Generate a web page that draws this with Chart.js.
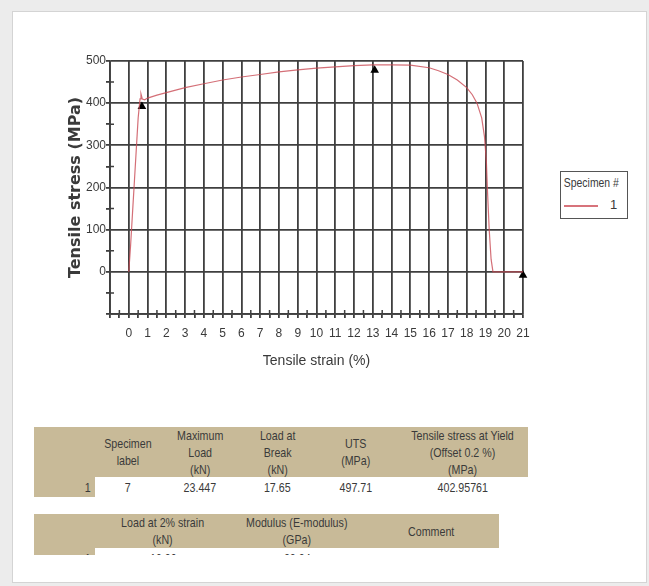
<!DOCTYPE html>
<html>
<head>
<meta charset="utf-8">
<script src="https://cdn.jsdelivr.net/npm/chart.js@4.4.1/dist/chart.umd.min.js"></script>
<style>
  body { margin: 0; background: #ececec; width: 649px; height: 586px; position: relative; overflow: hidden;
         font-family: 'Liberation Sans', sans-serif; color: #3a3a3a; }
  #frame { position: absolute; left: 12px; top: 11px; width: 633px; height: 570px; background: #fff; border: 1px solid #d4d4d4; }
  #wrap { position: absolute; left: 0; top: 0; width: 649px; height: 400px; }
  #legende { position: absolute; left: 560px; top: 171px; width: 66px; height: 46px; border: 1.5px solid #555;
             background: #fff; font-size: 13px; }
  #legende .tit { position: absolute; left: -4px; top: 3px; white-space: nowrap; transform: scaleX(0.8); }
  #legende .linea { position: absolute; left: 3px; top: 33px; width: 34px; height: 2px; background: rgba(205, 80, 90, 0.8); }
  #legende .num { position: absolute; left: 49px; top: 25px; }
  .tabla { position: absolute; font-size: 13px; }
  .celda { position: absolute; display: flex; align-items: center; justify-content: center; text-align: center;
           overflow: hidden; line-height: 17px; }
  .celda span { display: inline-block; transform: scaleX(0.82); white-space: nowrap; }
  .cab { background: #c8ba98; }
</style>
</head>
<body>
<div id="frame"></div>
<div id="wrap"><canvas id="Grafico" width="649" height="400"></canvas></div>
<div id="legende">
  <div class="tit">Specimen #</div>
  <div class="linea"></div>
  <div class="num">1</div>
</div>
<div id="tabla1" class="tabla"></div>
<div id="tabla2" class="tabla"></div>
<script>
// curva tensión-deformación
const deformacion = [0, 0.1, 0.2, 0.3, 0.4, 0.5, 0.6, 0.65, 0.72, 0.85, 1, 1.5, 2, 3, 4, 5, 6, 7, 8, 9, 10,
  11, 12, 13, 14, 15, 16, 16.5, 17, 17.5, 18, 18.3, 18.55, 18.8, 18.95, 19.05, 19.1, 19.2, 19.3, 19.4, 20, 21];
const tension = [0, 65, 140, 215, 290, 365, 410, 422, 410, 408, 412, 419, 425, 437, 446, 455, 462, 468, 474, 479, 483,
  486, 489, 491, 491, 490, 484, 477, 468, 455, 437, 420, 400, 365, 320, 260, 200, 100, 30, 0, 0, 0];

// marcadores (fluencia, UTS, rotura)
const marcaX = [0.7, 13.1, 21];
const marcaY = [392, 478, -8];

const ejeX = { min: -1, max: 21, paso: 0.5 };
const ejeY = { min: -100, max: 500, paso: 50 };

const colorGrilla = '#3f3f3f';
const fuenteTicks = { family: "'Liberation Sans', sans-serif", size: 12 };

// ticks menores hacia adentro
const ticksInternos = {
  id: 'ticksInternos',
  afterDraw(chart) {
    const { ctx, chartArea, scales } = chart;
    ctx.save();
    ctx.strokeStyle = colorGrilla;
    ctx.lineWidth = 1.5;
    ctx.beginPath();
    for (let v = ejeX.min; v <= ejeX.max; v += ejeX.paso) {
      if (Number.isInteger(v)) continue;
      const x = scales.x.getPixelForValue(v);
      ctx.moveTo(x, chartArea.bottom);
      ctx.lineTo(x, chartArea.bottom - 4);
    }
    for (let v = ejeY.min; v <= ejeY.max; v += ejeY.paso) {
      if (v % 100 === 0) continue;
      const y = scales.y.getPixelForValue(v);
      ctx.moveTo(chartArea.left, y);
      ctx.lineTo(chartArea.left + 4, y);
    }
    ctx.stroke();
    ctx.restore();
  }
};

const config = {
  type: 'scatter',
  data: {
    datasets: [{
      label: '1',
      data: deformacion.map((x, i) => ({ x: x, y: tension[i] })),
      showLine: true,
      borderColor: 'rgba(201, 75, 85, 0.8)',
      borderWidth: 1.2,
      pointRadius: 0,
      tension: 0
    }, {
      label: 'marcas',
      data: marcaX.map((x, i) => ({ x: x, y: marcaY[i] })),
      pointStyle: 'triangle',
      pointRadius: 5,
      backgroundColor: '#000',
      borderColor: '#000',
      borderWidth: 0,
      clip: false
    }]
  },
  options: {
    responsive: false,
    animation: false,
    layout: { padding: { left: 0, top: 61, right: 126, bottom: 0 } },
    plugins: { legend: { display: false }, tooltip: { enabled: false } },
    scales: {
      x: {
        type: 'linear', min: ejeX.min, max: ejeX.max,
        afterFit: s => { s.height = 86; },
        border: { color: colorGrilla, width: 1.8 },
        grid: {
          color: c => Number.isInteger(c.tick.value) ? colorGrilla : 'rgba(0,0,0,0)',
          tickColor: colorGrilla, lineWidth: 1.8, tickLength: 4
        },
        ticks: {
          stepSize: ejeX.paso, autoSkip: false, maxRotation: 0, padding: 8,
          color: '#3a3a3a', font: fuenteTicks,
          callback: v => (v >= 0 && Number.isInteger(v)) ? v : ''
        },
        title: {
          display: true, text: 'Tensile strain (%)', color: '#3a3a3a',
          font: { family: "'Liberation Sans', sans-serif", size: 14 },
          padding: { top: 0, bottom: 30 }
        }
      },
      y: {
        type: 'linear', min: ejeY.min, max: ejeY.max,
        afterFit: s => { s.width = 110; },
        border: { color: colorGrilla, width: 1.8 },
        grid: {
          color: c => (c.tick.value % 100 === 0) ? colorGrilla : 'rgba(0,0,0,0)',
          tickColor: colorGrilla, lineWidth: 1.8, tickLength: 4
        },
        ticks: {
          stepSize: ejeY.paso, autoSkip: false, padding: 0,
          color: '#3a3a3a', font: fuenteTicks,
          callback: v => (v >= 0 && v % 100 === 0) ? v : ''
        },
        title: {
          display: true, text: 'Tensile stress (MPa)', color: '#3a3a3a',
          font: { family: "'DejaVu Sans', sans-serif", size: 16, weight: 'bold' },
          padding: { top: 66, bottom: 0 }
        }
      }
    }
  },
  plugins: [ticksInternos]
};

const myChart = new Chart(document.getElementById('Grafico'), config);

// tablas de resultados
const cab1 = ['', 'Specimen<br>label', 'Maximum<br>Load<br>(kN)', 'Load at<br>Break<br>(kN)', 'UTS<br>(MPa)',
  'Tensile stress at Yield<br>(Offset 0.2 %)<br>(MPa)'];
const fila1 = ['1', '7', '23.447', '17.65', '497.71', '402.95761'];
const anchos1 = [61, 65, 80, 75, 82, 131];
const cab2 = ['', 'Load at 2% strain<br>(kN)', 'Modulus (E-modulus)<br>(GPa)', 'Comment'];
const fila2 = ['1', '16.30', '22.34', ''];
const anchos2 = [61, 136, 132, 136];

function armarTabla(id, left, top, cab, fila, anchos, altoCab, altoFila, desfase) {
  let contenedor = document.getElementById(id);
  contenedor.style.left = left + 'px';
  contenedor.style.top = top + 'px';
  let x = 0;
  anchos.forEach((w, i) => {
    let c = document.createElement('div');
    c.className = 'celda cab';
    c.style.cssText += `left:${x}px;top:0;width:${w}px;height:${altoCab}px;`;
    c.innerHTML = cab[i] ? `<span>${cab[i]}</span>` : '';
    contenedor.appendChild(c);
    let d = document.createElement('div');
    d.className = 'celda' + (i === 0 ? ' cab' : '');
    d.style.cssText += `left:${x}px;top:${altoCab}px;width:${w}px;height:${altoFila}px;align-items:flex-start;`;
    if (i === 0) d.style.justifyContent = 'flex-end';
    d.innerHTML = `<span style="position:relative;top:${desfase}px;${i === 0 ? 'margin-right:4px;' : ''}">${fila[i]}</span>`;
    contenedor.appendChild(d);
    x += w;
  });
}

armarTabla('tabla1', 34, 427, cab1, fila1, anchos1, 50, 20, 2);
armarTabla('tabla2', 34, 514, cab2, fila2, anchos2, 34, 7, 2);
</script>
</body>
</html>
